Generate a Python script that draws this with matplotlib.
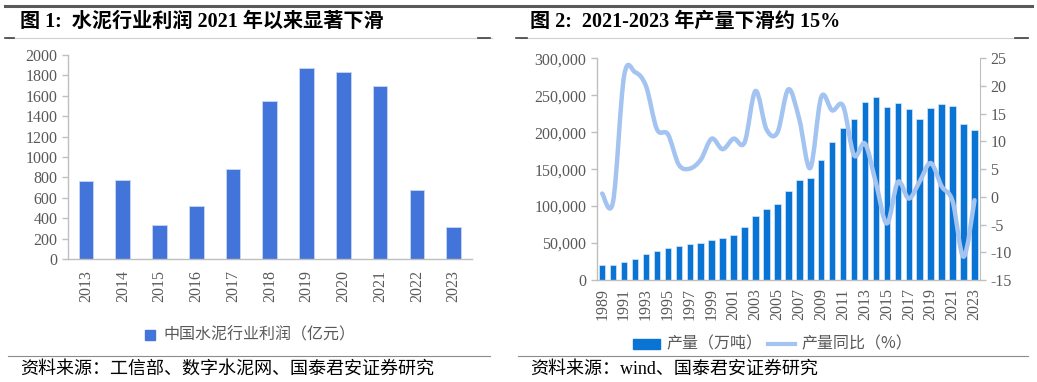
import matplotlib
matplotlib.use("Agg")
import matplotlib.pyplot as plt
import numpy as np
from matplotlib.path import Path
from matplotlib.patches import PathPatch
from matplotlib.lines import Line2D
from matplotlib.patches import Rectangle

# ---------------- data ----------------
profit_years = ["2013", "2014", "2015", "2016", "2017", "2018", "2019", "2020", "2021", "2022", "2023"]
profit_values = [762, 778, 330, 517, 879, 1546, 1870, 1837, 1700, 680, 314]

prod_years = [str(y) for y in range(1989, 2024)]
prod_values = [20000, 20000, 24000, 29000, 35000, 39000, 43000, 46000, 48500, 50500,
               54000, 57000, 61000, 72000, 86000, 95500, 103000, 120000, 134900, 138500,
               162800, 186300, 205700, 218300, 240900, 247200, 234100, 240000, 231400, 217400,
               232300, 237700, 235500, 210700, 202500]
yoy_values = [0.6, -0.8, 21.8, 22.5, 20.0, 12.2, 11.3, 5.8, 5.1, 6.7,
              10.5, 8.6, 10.5, 9.8, 19.1, 12.2, 11.6, 19.4, 14.0, 5.2,
              18.0, 15.6, 16.4, 7.5, 9.6, 2.5, -4.8, 2.7, -0.3, 2.8,
              6.1, 1.9, -0.8, -10.8, -0.6]

title_left = "图 1:  水泥行业利润 2021 年以来显著下滑"
title_right = "图 2:  2021-2023 年产量下滑约 15%"
legend_left = "中国水泥行业利润（亿元）"
legend_bar = "产量（万吨）"
legend_line = "产量同比（%）"
source_left = "资料来源：工信部、数字水泥网、国泰君安证券研究"
source_right = "资料来源：wind、国泰君安证券研究"

# ---------------- style ----------------
W, H = 1037, 382
SERIF = ["Liberation Serif", "Noto Sans CJK SC"]
CJK = ["Noto Sans CJK SC", "DejaVu Sans"]
TICK_COLOR = "#595959"
SPINE_COLOR = "#BFBFBF"

fig = plt.figure(figsize=(W / 100, H / 100), dpi=100)


def fx(px):
    return px / W


def fy(py):
    return 1 - py / H


def box(x0, y0, x1, y1):
    return [fx(x0), fy(y1), fx(x1) - fx(x0), fy(y0) - fy(y1)]


# decorative header / footer lines
def hline(x0, x1, y, color, lw):
    fig.add_artist(Line2D([fx(x0), fx(x1)], [fy(y), fy(y)], color=color, lw=lw,
                          transform=fig.transFigure))


hline(5, 1032, 5.5, "#595959", 2.2)
hline(8, 492, 37.5, "#D0D0D0", 0.8)
hline(520, 1028, 37.5, "#D0D0D0", 0.8)
for a, b in [(5, 14), (478, 490), (516, 527), (1015, 1028)]:
    hline(a, b, 37.5, "#404040", 1.2)
hline(8, 490, 355.5, "#8C8C8C", 0.8)
hline(518, 1028, 355.5, "#8C8C8C", 0.8)

fig.text(fx(20), fy(22), title_left, family=SERIF, fontsize=14.5, fontweight="bold",
         color="#000000", va="center", ha="left")
fig.text(fx(530), fy(22), title_right, family=SERIF, fontsize=14.5, fontweight="bold",
         color="#000000", va="center", ha="left")
fig.text(fx(20), fy(369), source_left, family=SERIF, fontsize=13, color="#000000",
         va="center", ha="left")
fig.text(fx(530), fy(369), source_right, family=SERIF, fontsize=13, color="#000000",
         va="center", ha="left")


def style_axis(ax):
    for s in ["top", "right"]:
        ax.spines[s].set_visible(False)
    for s in ["left", "bottom"]:
        ax.spines[s].set_color(SPINE_COLOR)
        ax.spines[s].set_linewidth(1.0)
    ax.tick_params(axis="y", colors=SPINE_COLOR, labelcolor=TICK_COLOR, length=4, width=1.0)
    ax.tick_params(axis="x", length=0, labelcolor=TICK_COLOR)


# ---------------- left chart ----------------
ax1 = fig.add_axes(box(67.7, 55, 472, 259))
x1 = np.arange(len(profit_years))
ax1.bar(x1, profit_values, width=0.4, color="#4374D9", edgecolor="#C9D8F5", linewidth=0.6)
ax1.set_xlim(-0.5, len(profit_years) - 0.5)
ax1.set_ylim(0, 2000)
ax1.set_yticks(range(0, 2001, 200))
ax1.set_xticks(x1)
ax1.set_xticklabels(profit_years, rotation=90, family=SERIF, fontsize=11.5)
for lab in ax1.get_yticklabels():
    lab.set_family(SERIF)
    lab.set_fontsize(11.5)
style_axis(ax1)
ax1.tick_params(axis="x", pad=8)

# left legend
fig.add_artist(Rectangle((fx(145), fy(340)), fx(10), fy(330) - fy(340), color="#4374D9",
                         transform=fig.transFigure))
fig.text(fx(163), fy(335), legend_left, family=CJK, fontsize=11.5, color=TICK_COLOR,
         va="center", ha="left")

# ---------------- right chart ----------------
ax2 = fig.add_axes(box(596.7, 58.3, 980, 280))
x2 = np.arange(len(prod_years))
ax2.bar(x2, prod_values, width=0.6, color="#0A74D4", edgecolor="#D6E6F7", linewidth=0.5)
ax2.set_xlim(-0.5, len(prod_years) - 0.5)
ax2.set_ylim(0, 300000)
ax2.set_yticks(range(0, 300001, 50000))
ax2.set_yticklabels([f"{v:,}" for v in range(0, 300001, 50000)], family=SERIF, fontsize=11.5)
ax2.set_xticks(x2[::2])
ax2.set_xticklabels(prod_years[::2], rotation=90, family=SERIF, fontsize=11.5)
style_axis(ax2)
ax2.tick_params(axis="x", pad=6)

ax3 = ax2.twinx()
ax3.set_ylim(-15, 25)
ax3.set_yticks(range(-15, 26, 5))
ax3.set_yticklabels([str(v) for v in range(-15, 26, 5)], family=SERIF, fontsize=11.5)
for s in ["top", "left", "bottom"]:
    ax3.spines[s].set_visible(False)
ax3.spines["right"].set_color(SPINE_COLOR)
ax3.tick_params(axis="y", colors=SPINE_COLOR, labelcolor=TICK_COLOR, length=4, width=1.0)

# smooth (Catmull-Rom -> Bezier) line through the yoy data points
pts = np.column_stack([x2.astype(float), np.array(yoy_values, dtype=float)])
ext = np.vstack([pts[0], pts, pts[-1]])
verts = [tuple(pts[0])]
codes = [Path.MOVETO]
for i in range(len(pts) - 1):
    p0, p1, p2, p3 = ext[i], ext[i + 1], ext[i + 2], ext[i + 3]
    c1 = p1 + (p2 - p0) / 6.0
    c2 = p2 - (p3 - p1) / 6.0
    verts += [tuple(c1), tuple(c2), tuple(p2)]
    codes += [Path.CURVE4] * 3
ax3.add_patch(PathPatch(Path(verts, codes), facecolor="none", edgecolor="#A3C3F0",
                        lw=3.2, capstyle="round", joinstyle="round"))

# right legend
fig.add_artist(Rectangle((fx(633), fy(349)), fx(660) - fx(633), fy(339) - fy(349),
                         color="#0A74D4", transform=fig.transFigure))
fig.text(fx(666), fy(344), legend_bar, family=CJK, fontsize=11.5, color=TICK_COLOR,
         va="center", ha="left")
fig.add_artist(Line2D([fx(768), fx(795)], [fy(344), fy(344)], color="#A3C3F0", lw=3,
                      transform=fig.transFigure))
fig.text(fx(801), fy(344), legend_line, family=CJK, fontsize=11.5, color=TICK_COLOR,
         va="center", ha="left")

fig.savefig("out.png", dpi=100)
